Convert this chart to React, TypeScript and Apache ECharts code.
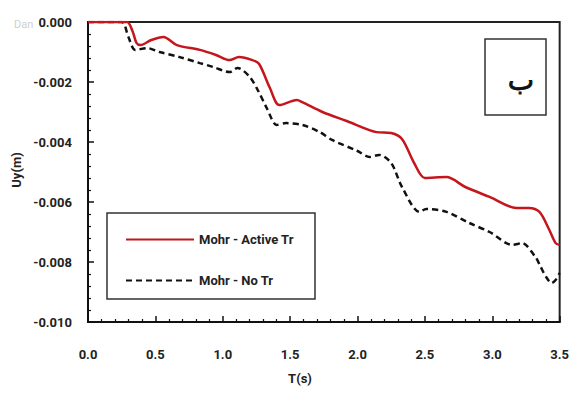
import React, { useEffect, useRef } from "react";
import * as echarts from "echarts";

const activeT = [0, 0.1, 0.2, 0.29, 0.33, 0.36, 0.39, 0.47, 0.56, 0.66, 0.83, 0.95, 1.05, 1.12, 1.22, 1.27, 1.35, 1.42, 1.55, 1.59, 1.74, 1.92, 2.14, 2.25, 2.33, 2.42, 2.5, 2.66, 2.8, 2.98, 3.18, 3.27, 3.35, 3.42, 3.47, 3.5];
const activeUy = [0, 0, 0, 0, -0.0003, -0.0007, -0.00077, -0.0006, -0.0005, -0.00077, -0.00093, -0.0011, -0.00127, -0.00117, -0.00127, -0.0014, -0.0022, -0.00277, -0.0026, -0.00267, -0.003, -0.0033, -0.00367, -0.0037, -0.0039, -0.0047, -0.0052, -0.00517, -0.0055, -0.00583, -0.0062, -0.0062, -0.00633, -0.0069, -0.00737, -0.00743];

const noTrT = [0, 0.1, 0.25, 0.3, 0.35, 0.44, 0.53, 0.68, 0.83, 0.93, 1.05, 1.11, 1.2, 1.26, 1.33, 1.4, 1.47, 1.59, 1.72, 1.81, 2.0, 2.09, 2.16, 2.25, 2.33, 2.46, 2.51, 2.66, 2.83, 2.98, 3.15, 3.22, 3.32, 3.36, 3.4, 3.44, 3.47, 3.5];
const noTrUy = [0, 0, 0, -0.0005, -0.00093, -0.00087, -0.001, -0.00117, -0.00137, -0.0015, -0.00167, -0.00153, -0.00183, -0.00227, -0.0029, -0.00343, -0.00337, -0.00343, -0.00367, -0.00393, -0.0043, -0.0045, -0.00443, -0.0047, -0.0055, -0.00633, -0.00623, -0.00633, -0.0067, -0.007, -0.00743, -0.00737, -0.00783, -0.00817, -0.0085, -0.0087, -0.0086, -0.00837];

const seriesNames = ["Mohr - Active Tr", "Mohr - No Tr"];
const xAxisName = "T(s)";
const yAxisName = "Uy(m)";
const panelLabel = "ب";

const FONT = "'Liberation Sans Narrow', 'Roboto', sans-serif";

export default function App() {
  const ref = useRef<HTMLDivElement>(null);
  useEffect(() => {
    if (!ref.current) return;
    const chart = echarts.init(ref.current, undefined, { renderer: "svg" });
    const zip = (xs: number[], ys: number[]) => xs.map((x, i) => [x, ys[i]]);
    chart.setOption({
      animation: false,
      backgroundColor: "#ffffff",
      grid: {
        left: 88,
        right: 11,
        top: 22,
        bottom: 71,
        show: true,
        borderColor: "#222",
        borderWidth: 2,
      },
      legend: {
        orient: "vertical",
        left: 120,
        top: 228,
        z: 20,
        itemWidth: 68,
        itemHeight: 14,
        itemGap: 28,
        itemStyle: { opacity: 0 },
        textStyle: { fontFamily: FONT, fontWeight: "bold", fontSize: 13, color: "#222" },
        data: seriesNames,
      },
      xAxis: {
        type: "value",
        min: 0,
        max: 3.5,
        interval: 0.5,
        axisLine: { show: true, onZero: false, lineStyle: { color: "#111", width: 2 } },
        axisTick: { show: true, inside: true, length: 6, lineStyle: { color: "#111", width: 1.5 } },
        minorTick: { show: true, splitNumber: 5, length: 3, lineStyle: { color: "#111", width: 1.2 } },
        splitLine: { show: false },
        axisLabel: {
          margin: 26,
          fontFamily: FONT,
          fontWeight: "bold",
          fontSize: 13,
          color: "#222",
          formatter: (v: number) => v.toFixed(1),
        },
      },
      yAxis: {
        type: "value",
        min: -0.01,
        max: 0,
        interval: 0.002,
        axisLine: { show: true, onZero: false, lineStyle: { color: "#111", width: 2 } },
        axisTick: { show: true, inside: true, length: 6, lineStyle: { color: "#111", width: 1.5 } },
        minorTick: { show: true, splitNumber: 5, length: 3, lineStyle: { color: "#111", width: 1.2 } },
        splitLine: { show: false },
        axisLabel: {
          margin: 16,
          fontFamily: FONT,
          fontWeight: "bold",
          fontSize: 13,
          color: "#222",
          formatter: (v: number) => v.toFixed(3),
        },
      },
      series: [
        {
          name: seriesNames[0],
          type: "line",
          data: zip(activeT, activeUy),
          smooth: 0.3,
          symbol: "none",
          lineStyle: { color: "#c4161c", width: 2.5 },
          itemStyle: { color: "#c4161c" },
          z: 3,
        },
        {
          name: seriesNames[1],
          type: "line",
          data: zip(noTrT, noTrUy),
          smooth: 0.3,
          symbol: "none",
          lineStyle: { color: "#111", width: 2.5, type: [6, 4] },
          itemStyle: { color: "#111" },
          z: 2,
        },
      ],
      graphic: [
        {
          type: "rect",
          shape: { x: 107, y: 213, width: 208, height: 86 },
          style: { fill: "#fff", stroke: "#333", lineWidth: 1.5 },
          z: 5,
        },
        {
          type: "rect",
          shape: { x: 485, y: 39, width: 61, height: 76 },
          style: { fill: "#fff", stroke: "#333", lineWidth: 1.5 },
          z: 5,
        },
        {
          type: "text",
          x: 521,
          y: 80,
          style: {
            text: panelLabel,
            fontFamily: "'DejaVu Sans', sans-serif",
            fontSize: 28,
            fill: "#111",
            stroke: "#111",
            lineWidth: 0.8,
            align: "center",
            verticalAlign: "middle",
          },
          z: 6,
        },
        {
          type: "text",
          x: 300,
          y: 378,
          style: {
            text: xAxisName,
            fontFamily: FONT,
            fontWeight: "bold",
            fontSize: 13,
            fill: "#222",
            align: "center",
            verticalAlign: "middle",
          },
        },
        {
          type: "text",
          x: 16,
          y: 170,
          rotation: Math.PI / 2,
          style: {
            text: yAxisName,
            fontFamily: FONT,
            fontWeight: "bold",
            fontSize: 13,
            fill: "#222",
            align: "center",
            verticalAlign: "middle",
          },
        },
        {
          type: "text",
          x: 14,
          y: 24,
          style: {
            text: "Dan",
            fontFamily: FONT,
            fontSize: 11,
            fill: "#cfcfcf",
            align: "left",
            verticalAlign: "middle",
          },
        },
      ],
    });
    return () => chart.dispose();
  }, []);
  return (
    <div
      ref={ref}
      style={{ position: "absolute", left: 0, top: 0, width: 572, height: 393 }}
    />
  );
}
